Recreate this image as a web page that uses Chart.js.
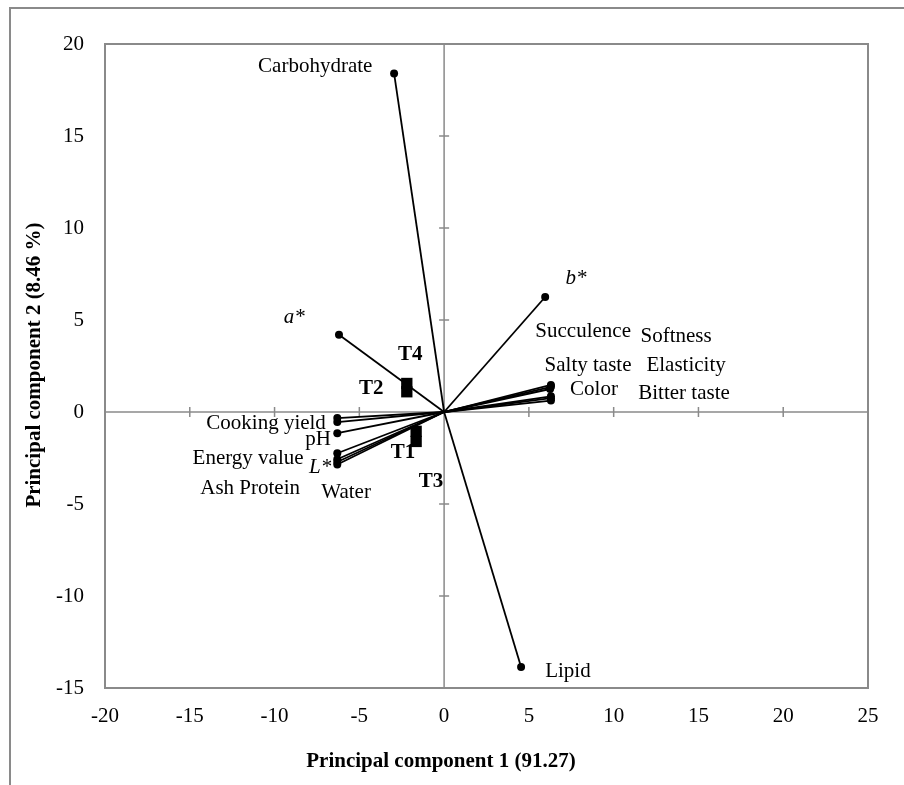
<!DOCTYPE html>
<html>
<head>
<meta charset="utf-8">
<script src="https://cdn.jsdelivr.net/npm/chart.js@4/dist/chart.umd.min.js"></script>
<style>
  html, body { margin: 0; padding: 0; background: #fff; }
  #wrap { position: relative; width: 904px; height: 785px; overflow: hidden; }
  #frame { position: absolute; left: 9px; top: 7px; width: 900px; height: 800px;
           border-top: 2px solid #8a8a8a; border-left: 2px solid #8a8a8a; }
  #pca { position: absolute; left: 0; top: 0; }
</style>
</head>
<body>
<div id="wrap">
  <div id="frame"></div>
  <canvas id="pca" width="904" height="785"></canvas>
</div>
<script>
// ---- loading vectors (PC1, PC2) ----
const varNames = ["Carbohydrate", "Lipid", "a*", "b*",
  "Succulence", "Softness", "Salty taste", "Elasticity", "Color", "Bitter taste",
  "Cooking yield", "Ash", "pH", "Energy value", "L*", "Protein", "Water"];
const varPC1 = [-2.95, 4.54, -6.2, 5.96,
  6.3, 6.3, 6.25, 6.3, 6.3, 6.3,
  -6.3, -6.3, -6.3, -6.3, -6.3, -6.3, -6.3];
const varPC2 = [18.4, -13.86, 4.2, 6.25,
  1.47, 1.37, 1.25, 0.85, 0.75, 0.62,
  -0.33, -0.55, -1.15, -2.24, -2.57, -2.72, -2.85];

// ---- treatment scores ----
const trtNames = ["T1", "T2", "T3", "T4"];
const trtPC1 = [-1.65, -2.2, -1.65, -2.2];
const trtPC2 = [-1.05, 1.1, -1.6, 1.55];

// ---- axis ticks ----
const xTicks = [-20, -15, -10, -5, 0, 5, 10, 15, 20, 25];
const yTicks = [-15, -10, -5, 0, 5, 10, 15, 20];

// label anchors (data units), placed by hand like in the original
const textLabels = [
  { t: "Carbohydrate", x: -7.6, y: 18.8 },
  { t: "Lipid", x: 7.3, y: -14.1 },
  { t: "b*", x: 7.78, y: 7.23, it: true },
  { t: "a*", x: -8.84, y: 5.16, it: true },
  { t: "Succulence", x: 8.2, y: 4.4 },
  { t: "Softness", x: 13.68, y: 4.08 },
  { t: "Salty taste", x: 8.49, y: 2.55 },
  { t: "Elasticity", x: 14.27, y: 2.55 },
  { t: "Color", x: 8.84, y: 1.25 },
  { t: "Bitter taste", x: 14.15, y: 1.03 },
  { t: "Cooking yield", x: -10.5, y: -0.65 },
  { t: "pH", x: -7.43, y: -1.52 },
  { t: "Energy value", x: -11.56, y: -2.5 },
  { t: "L*", x: -7.31, y: -3.04, it: true },
  { t: "Ash Protein", x: -11.44, y: -4.13 },
  { t: "Water", x: -5.78, y: -4.4 },
  { t: "T4", x: -2.0, y: 3.1, bold: true },
  { t: "T2", x: -4.3, y: 1.25, bold: true },
  { t: "T1", x: -2.42, y: -2.23, bold: true },
  { t: "T3", x: -0.77, y: -3.8, bold: true }
];

const SERIF = "'Liberation Serif', 'Times New Roman', serif";
const GREY = "#8a8a8a";
Chart.defaults.font.family = SERIF;
Chart.defaults.color = "#000";

const datasets = varNames.map((name, i) => ({
  label: name,
  data: [{ x: 0, y: 0 }, { x: varPC1[i], y: varPC2[i] }],
  showLine: true,
  borderColor: "#000",
  borderWidth: 1.8,
  backgroundColor: "#000",
  pointBorderWidth: 0,
  pointRadius: ctx => ctx.dataIndex === 1 ? 4 : 0
}));
datasets.push({
  label: "Treatments",
  data: trtNames.map((n, i) => ({ x: trtPC1[i], y: trtPC2[i] })),
  pointStyle: "rect",
  pointRadius: 8,
  pointBorderWidth: 0,
  backgroundColor: "#000",
  borderColor: "#000"
});

// plot frame + axes through the origin
const originAxes = {
  id: "originAxes",
  beforeDatasetsDraw(chart) {
    const { ctx, chartArea: a, scales: { x, y } } = chart;
    const x0 = x.getPixelForValue(0), y0 = y.getPixelForValue(0);
    ctx.save();
    ctx.strokeStyle = GREY;
    ctx.lineWidth = 2;
    ctx.strokeRect(a.left, a.top, a.right - a.left, a.bottom - a.top);
    ctx.lineWidth = 1.5;
    ctx.beginPath();
    ctx.moveTo(a.left, y0); ctx.lineTo(a.right, y0);
    ctx.moveTo(x0, a.top); ctx.lineTo(x0, a.bottom);
    xTicks.forEach(v => {
      const px = x.getPixelForValue(v);
      ctx.moveTo(px, y0 - 5); ctx.lineTo(px, y0 + 5);
    });
    yTicks.forEach(v => {
      const py = y.getPixelForValue(v);
      ctx.moveTo(x0 - 5, py); ctx.lineTo(x0 + 5, py);
    });
    ctx.stroke();
    ctx.restore();
  },
  afterDraw(chart) {
    const { ctx, scales: { x, y } } = chart;
    ctx.save();
    ctx.fillStyle = "#000";
    ctx.textAlign = "center";
    ctx.textBaseline = "middle";
    textLabels.forEach(l => {
      const style = l.bold ? "bold " : (l.it ? "italic " : "");
      ctx.font = style + "21px " + SERIF;
      ctx.fillText(l.t, x.getPixelForValue(l.x), y.getPixelForValue(l.y));
    });
    ctx.font = "bold 21px " + SERIF;
    ctx.fillText("Principal component 1 (91.27)", 441, 762);
    ctx.translate(35, 365);
    ctx.rotate(-Math.PI / 2);
    ctx.fillText("Principal component 2 (8.46 %)", 0, 0);
    ctx.restore();
  }
};

new Chart(document.getElementById("pca"), {
  type: "scatter",
  data: { datasets },
  options: {
    responsive: false,
    animation: false,
    layout: { padding: { left: 0, top: 44, right: 36, bottom: 0 } },
    plugins: { legend: { display: false }, tooltip: { enabled: false } },
    scales: {
      x: {
        min: -20, max: 25,
        grid: { display: false },
        border: { display: false },
        ticks: { stepSize: 5, padding: 8, font: { size: 21 }, color: "#000" },
        afterFit(s) { s.height = 97; }
      },
      y: {
        min: -15, max: 20,
        grid: { display: false },
        border: { display: false },
        ticks: { stepSize: 5, padding: 13, font: { size: 21 }, color: "#000" },
        afterFit(s) { s.width = 105; }
      }
    }
  },
  plugins: [originAxes]
});
</script>
</body>
</html>
